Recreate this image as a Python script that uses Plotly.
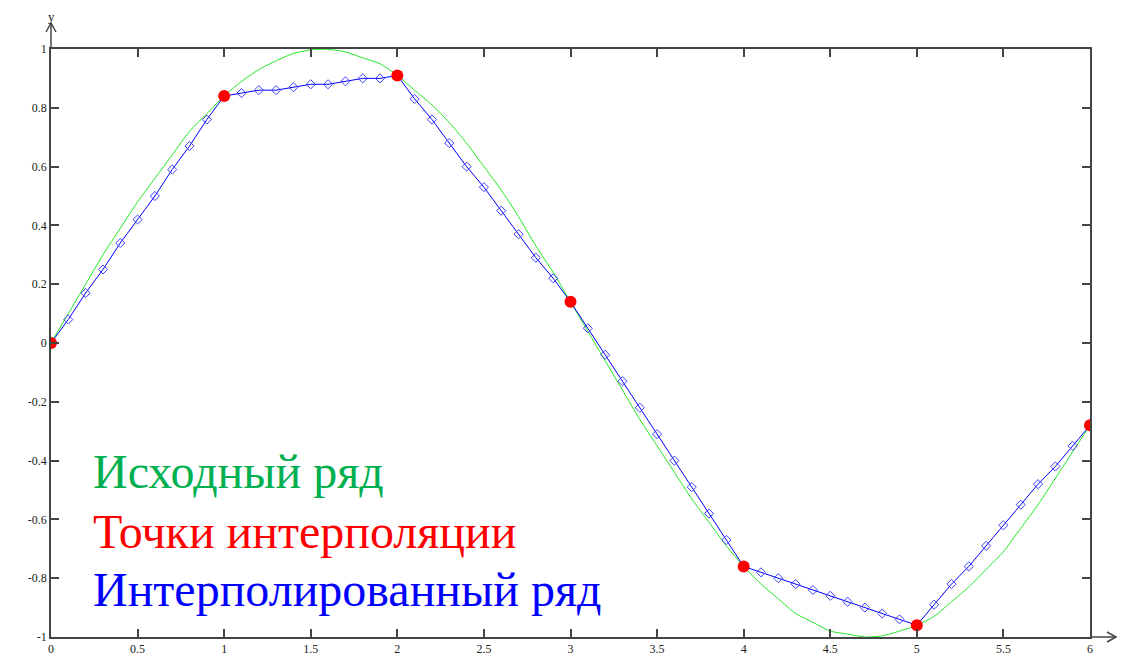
import plotly.graph_objects as go

# ---- data ----
x_fine = [round(i * 0.1, 1) for i in range(61)]
y_source = [0.00, 0.10, 0.20, 0.30, 0.39, 0.48, 0.56, 0.64, 0.72, 0.78,
            0.84, 0.89, 0.93, 0.96, 0.985, 0.997, 0.999, 0.99, 0.97, 0.95,
            0.91, 0.86, 0.81, 0.75, 0.68, 0.60, 0.52, 0.43, 0.33, 0.24,
            0.14, 0.04, -0.06, -0.16, -0.26, -0.35, -0.44, -0.53, -0.61, -0.69,
            -0.76, -0.82, -0.87, -0.92, -0.95, -0.98, -0.99, -1.00, -0.996, -0.98,
            -0.96, -0.93, -0.88, -0.83, -0.77, -0.71, -0.63, -0.55, -0.46, -0.37,
            -0.28]

x_nodes = [0, 1, 2, 3, 4, 5, 6]
y_nodes = [0.00, 0.84, 0.91, 0.14, -0.76, -0.96, -0.28]

y_interp = [0.00, 0.08, 0.17, 0.25, 0.34, 0.42, 0.50, 0.59, 0.67, 0.76,
            0.84, 0.85, 0.86, 0.86, 0.87, 0.88, 0.88, 0.89, 0.90, 0.90,
            0.91, 0.83, 0.76, 0.68, 0.60, 0.53, 0.45, 0.37, 0.29, 0.22,
            0.14, 0.05, -0.04, -0.13, -0.22, -0.31, -0.40, -0.49, -0.58, -0.67,
            -0.76, -0.78, -0.80, -0.82, -0.84, -0.86, -0.88, -0.90, -0.92, -0.94,
            -0.96, -0.89, -0.82, -0.76, -0.69, -0.62, -0.55, -0.48, -0.42, -0.35,
            -0.28]

x_tick_vals = [0, 0.5, 1, 1.5, 2, 2.5, 3, 3.5, 4, 4.5, 5, 5.5, 6]
x_tick_text = ["0", "0.5", "1", "1.5", "2", "2.5", "3", "3.5", "4", "4.5", "5", "5.5", "6"]
y_tick_vals = [-1, -0.8, -0.6, -0.4, -0.2, 0, 0.2, 0.4, 0.6, 0.8, 1]
y_tick_text = ["-1", "-0.8", "-0.6", "-0.4", "-0.2", "0", "0.2", "0.4", "0.6", "0.8", "1"]

legend_labels = ["Исходный ряд", "Точки интерполяции", "Интерполированный ряд"]
legend_colors = ["#00b050", "#ff0000", "#0000ff"]
legend_y = [-0.437, -0.64, -0.84]

OFF = 8  # page body margin
W, H = 1119, 648
ML, MR, MT, MB = 43, 37, 41, 19
PW, PH = W - ML - MR, H - MT - MB

fig = go.Figure()
fig.add_trace(go.Scatter(x=x_fine, y=y_source, mode="lines",
                         line=dict(color="#20e820", width=1, shape="spline", smoothing=0.6),
                         hoverinfo="skip"))
fig.add_trace(go.Scatter(x=x_fine, y=y_interp, mode="lines+markers",
                         line=dict(color="#0000ff", width=1),
                         marker=dict(symbol="diamond-open", size=7, color="#4040ff",
                                     line=dict(width=1, color="#4040ff")),
                         hoverinfo="skip"))
fig.add_trace(go.Scatter(x=x_nodes, y=y_nodes, mode="markers",
                         marker=dict(symbol="circle", size=12, color="#ff0000"),
                         hoverinfo="skip"))

axis_common = dict(showline=True, linecolor="#444", linewidth=1.5, mirror="ticks",
                   ticks="inside", ticklen=8, tickcolor="#444", tickwidth=1.5,
                   showgrid=False, zeroline=False, automargin=False,
                   tickfont=dict(family="Liberation Serif", size=12, color="#222"))

fig.update_xaxes(range=[0, 6], tickvals=x_tick_vals, ticktext=x_tick_text, **axis_common)
fig.update_yaxes(range=[-1, 1], tickvals=y_tick_vals, ticktext=y_tick_text, **axis_common)


def px_x(p):
    return (p - OFF - ML) / PW


def px_y(p):
    return (H - MB - (p - OFF)) / PH


shapes = []
lc = dict(color="#444", width=1.5)
# y-axis arrow
shapes.append(dict(type="line", xref="paper", yref="paper", x0=0, y0=1, x1=0, y1=px_y(23), line=lc))
shapes.append(dict(type="path", xref="paper", yref="paper",
                   path=f"M {px_x(46)},{px_y(32)} L {px_x(51)},{px_y(23)} L {px_x(56)},{px_y(32)}",
                   line=lc))
# x-axis arrow
shapes.append(dict(type="line", xref="paper", yref="paper", x0=1, y0=0, x1=px_x(1116), y1=0, line=lc))
shapes.append(dict(type="path", xref="paper", yref="paper",
                   path=f"M {px_x(1107)},{px_y(632)} L {px_x(1116)},{px_y(637)} L {px_x(1107)},{px_y(642)}",
                   line=lc))

annotations = []
annotations.append(dict(xref="paper", yref="paper", x=px_x(51), y=px_y(17), text="y",
                        showarrow=False, xanchor="center", yanchor="middle",
                        font=dict(family="Liberation Serif", size=13, color="#222")))
annotations.append(dict(xref="paper", yref="paper", x=px_x(1123), y=px_y(636), text="x",
                        showarrow=False, xanchor="center", yanchor="middle",
                        font=dict(family="Liberation Serif", size=13, color="#222")))
for lab, col, yy in zip(legend_labels, legend_colors, legend_y):
    annotations.append(dict(xref="paper", yref="y", x=px_x(91), y=yy, text=lab,
                            showarrow=False, xanchor="left", yanchor="middle",
                            font=dict(family="Liberation Serif", size=48, color=col)))

fig.update_layout(width=W, height=H, margin=dict(l=ML, r=MR, t=MT, b=MB),
                  paper_bgcolor="white", plot_bgcolor="white", showlegend=False,
                  shapes=shapes, annotations=annotations)

fig.write_html("out.html")
